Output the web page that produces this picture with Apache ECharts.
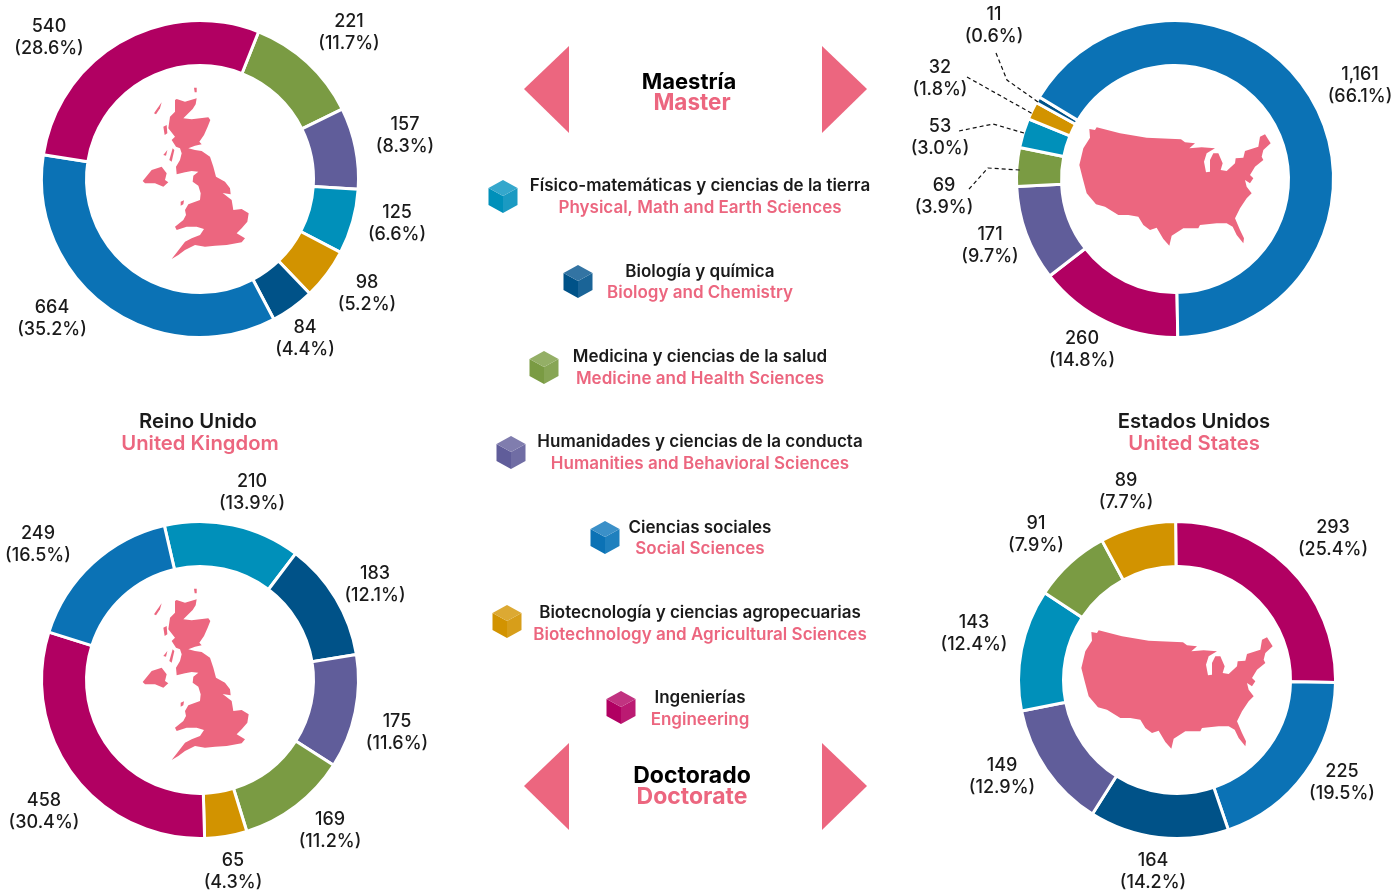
<!DOCTYPE html>
<html><head><meta charset="utf-8">
<style>html,body{margin:0;padding:0;background:#fff}#c{width:1395px;height:893px}</style>
<script src="https://cdn.jsdelivr.net/npm/echarts@6/dist/echarts.min.js"></script>
</head><body><div id="c"></div>
<script>
// ---------- data ----------
const ukMasterValues   = [221,157,125,98,84,664,540];
const usMasterValues   = [260,171,69,53,32,11,1161];
const ukDoctorValues   = [210,183,175,169,65,458,249];
const usDoctorValues   = [293,225,164,149,143,91,89];
const legendEs = ['Físico-matemáticas y ciencias de la tierra','Biología y química','Medicina y ciencias de la salud','Humanidades y ciencias de la conducta','Ciencias sociales','Biotecnología y ciencias agropecuarias','Ingenierías'];
const legendEn = ['Physical, Math and Earth Sciences','Biology and Chemistry','Medicine and Health Sciences','Humanities and Behavioral Sciences','Social Sciences','Biotechnology and Agricultural Sciences','Engineering'];

// ---------- styling ----------
const C = {crimson:'#B10062',blue:'#0B72B5',green:'#7A9B43',purple:'#605D9A',teal:'#0090BA',gold:'#D29300',navy:'#005288'};
const PINK = '#EC667F';
const INK = '#1a1a1a';
const FONT = 'Inter, "Noto Sans", sans-serif';
const pies = [
 {values:ukMasterValues, cx:200,cy:179, start:68.3, colors:[C.green,C.purple,C.teal,C.gold,C.navy,C.blue,C.crimson],
  labels:[[349,32],[405,135],[397,223],[367,293],[305,338],[52,318],[49,37]]},
 {values:usMasterValues, cx:1175,cy:179, start:-89, colors:[C.crimson,C.purple,C.green,C.teal,C.gold,C.navy,C.blue],
  labels:[[1082,349],[990,245],[944,196],[940,137],[940,78],[994,25],[1360,85]]},
 {values:ukDoctorValues, cx:200,cy:680, start:103, colors:[C.teal,C.navy,C.purple,C.green,C.gold,C.crimson,C.blue],
  labels:[[252,492],[375,584],[397,732],[330,830],[233,871],[44,811],[38,544]]},
 {values:usDoctorValues, cx:1177,cy:680, start:90.5, colors:[C.crimson,C.blue,C.navy,C.purple,C.teal,C.green,C.gold],
  labels:[[1333,538],[1342,782],[1153,871],[1002,776],[974,633],[1036,534],[1126,491]]}
];
const cubes = [
 [503,196,'#0090BA','#1B9AC2','#35A7CC'],[578,281,'#005288','#1A6497','#3374A3'],
 [544,367,'#7A9B43','#87A555','#94AF66'],[511,452,'#605D9A','#706DA4','#807DAE'],
 [605,537,'#0B72B5','#1F80BE','#3B90C8'],[507,621,'#D29300','#D79E1A','#DCA933'],
 [621,707,'#B10062','#BB1A72','#C13381']];
const legendY = [186,271.5,357,442,527.5,613,698];

const ukPts = [[140,42],[165,50],[200,40],[197,58],[188,72],[160,100],[185,103],[235,97],[241,105],[233,125],[222,150],[208,170],[215,178],[195,182],[175,190],[195,195],[215,198],[240,215],[250,245],[258,275],[285,290],[300,310],[302,328],[278,324],[305,345],[310,375],[335,372],[356,385],[352,410],[335,430],[320,445],[345,460],[335,472],[290,480],[255,482],[225,485],[195,480],[165,495],[145,510],[125,522],[150,490],[165,470],[185,460],[210,450],[222,432],[200,425],[170,425],[140,435],[135,425],[160,405],[168,390],[165,375],[175,358],[210,345],[212,325],[205,302],[188,290],[190,272],[205,260],[185,258],[165,262],[140,268],[138,245],[150,225],[155,205],[150,190],[138,185],[125,165],[135,155],[115,130],[120,95],[135,80],[135,45]];
const ukExtra = [
 [[38,288],[65,255],[95,245],[110,265],[105,285],[115,292],[100,305],[75,295],[45,295]],
 [[72,85],[95,52],[90,70],[78,88]],[[152,350],[162,346],[160,358],[152,362]],
 [[100,125],[110,120],[112,145],[104,150]],[[118,225],[128,190],[133,195],[125,230]],
 [[100,210],[112,195],[108,212]],[[192,8],[200,8],[200,22],[194,22]]];
const usPts = [[80,37],[150,55],[230,68],[333,73],[345,82],[375,85],[358,100],[395,97],[435,100],[410,115],[402,140],[408,172],[420,170],[420,135],[430,115],[445,115],[458,145],[452,165],[470,168],[495,145],[497,130],[520,128],[525,108],[565,95],[570,65],[585,58],[602,85],[580,105],[575,125],[580,135],[555,155],[540,180],[550,190],[540,205],[525,195],[530,215],[545,235],[530,250],[510,280],[495,310],[510,345],[522,370],[520,385],[500,360],[488,335],[470,325],[440,325],[390,330],[385,340],[340,340],[305,362],[298,392],[280,372],[260,338],[240,345],[220,330],[205,305],[175,300],[145,300],[105,275],[78,268],[50,235],[38,190],[28,150],[40,100],[60,68],[58,42],[75,45]];

// ---------- graphics ----------
const g = [];
const txt = (x,y,t,fill,size,weight) => g.push({type:'text',x,y,style:{text:t,fill,font:`${weight} ${size}px ${FONT}`,textAlign:'center',textVerticalAlign:'middle'}});
const poly = (pts,fill) => g.push({type:'polygon',shape:{points:pts},style:{fill}});
const map3 = (pts,ox,oy) => pts.map(p=>[p[0]/3+ox,p[1]/3+oy]);

[[130,85],[130,586]].forEach(o=>{poly(map3(ukPts,o[0],o[1]),PINK);ukExtra.forEach(e=>poly(map3(e,o[0],o[1]),PINK));});
[[1070,115],[1072,618]].forEach(o=>poly(map3(usPts,o[0],o[1]),PINK));

[[46,133,89],[743,830,786]].forEach(t=>{
  poly([[569,t[0]],[524,t[2]],[569,t[1]]],PINK);
  poly([[822,t[0]],[867,t[2]],[822,t[1]]],PINK);
});
cubes.forEach(c=>{
  const [x,y,l,r,t]=c;
  poly([[x-14.5,y-8],[x,y],[x,y+17],[x-14.5,y+9]],l);
  poly([[x+14.5,y-8],[x,y],[x,y+17],[x+14.5,y+9]],r);
  poly([[x,y-16],[x+14.5,y-8],[x,y],[x-14.5,y-8]],t);
});
legendEs.forEach((t,i)=>{txt(700,legendY[i],t,INK,17,600);txt(700,legendY[i]+21.5,legendEn[i],PINK,17,600);});
txt(689,82,'Maestría','#000',22,700);txt(692,103,'Master',PINK,22.5,700);
txt(692,776,'Doctorado','#000',23,700);txt(692,797,'Doctorate',PINK,23,700);
txt(198,421.5,'Reino Unido',INK,20.3,600);txt(200,443.5,'United Kingdom',PINK,20.3,600);
txt(1194,421.5,'Estados Unidos',INK,20.3,600);txt(1194,443.5,'United States',PINK,20.3,600);
[[[996,53],[1007,80],[1038,102]],[[967,77],[1033,114]],[[959,131],[993,124],[1024,133]],[[969,189],[988,168],[1020,170]]]
 .forEach(p=>g.push({type:'polyline',z:10,shape:{points:p},style:{stroke:'#111',lineWidth:1.2,lineDash:[4,3],fill:null}}));

const series = pies.map(p=>{
  const sum = p.values.reduce((a,b)=>a+b,0);
  return {
  type:'pie',center:[p.cx,p.cy],radius:[113.5,158.5],startAngle:p.start,clockwise:true,
  animation:false,silent:true,
  data:p.values.map((v,i)=>({value:v,itemStyle:{color:p.colors[i]}})),
  itemStyle:{borderColor:'#fff',borderWidth:3},
  label:{show:true,position:'outside',overflow:'none',
    formatter:a=>a.value.toLocaleString('en-US')+'\n('+(a.value/sum*100).toFixed(1)+'%)',
    fontFamily:FONT,fontSize:18,fontWeight:500,color:INK,lineHeight:22,align:'center'},
  labelLine:{show:false},
  labelLayout:(a)=>({x:p.labels[a.dataIndex][0],y:p.labels[a.dataIndex][1]+1,align:'center',verticalAlign:'middle',hideOverlap:false})
}});
const chart = echarts.init(document.getElementById('c'),null,{renderer:'canvas'});
chart.setOption({animation:false,backgroundColor:'#fff',
  tooltip:{show:false},series,graphic:{elements:g}});
</script></body></html>
